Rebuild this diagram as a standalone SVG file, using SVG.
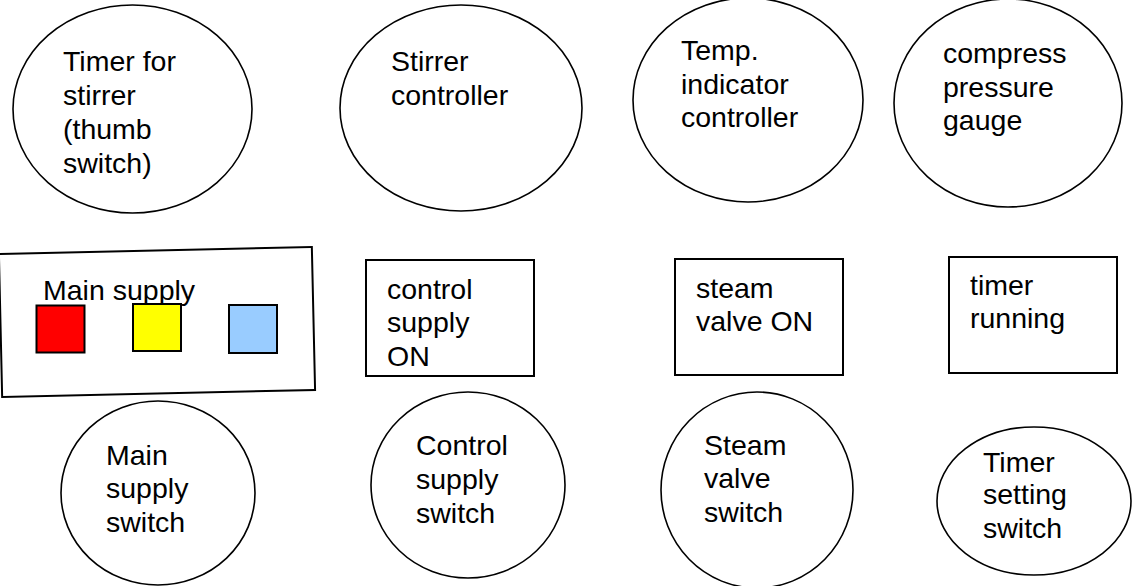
<svg xmlns="http://www.w3.org/2000/svg" width="1148" height="586" viewBox="0 0 1148 586">
<style>
  .bg { fill: #ffffff; }
  .node { fill: #ffffff; stroke: #000000; stroke-width: 1.6; }
  .box { fill: #ffffff; stroke: #000000; stroke-width: 2; }
  .sq { stroke: #000000; stroke-width: 2; }
  text { font-family: "Liberation Sans", Arial, sans-serif; font-size: 28.5px; fill: #000000; }
</style>
<rect class="bg" x="0" y="0" width="1148" height="586"/>
<g id="connectors"/>

<g id="timer-for-stirrer">
  <ellipse class="node" cx="132.5" cy="109" rx="119.5" ry="104"/>
  <text x="63" y="71">Timer for</text>
  <text x="63" y="105">stirrer</text>
  <text x="63" y="139">(thumb</text>
  <text x="63" y="173">switch)</text>
</g>

<g id="stirrer-controller">
  <ellipse class="node" cx="461" cy="108" rx="121" ry="103"/>
  <text x="391" y="71">Stirrer</text>
  <text x="391" y="105">controller</text>
</g>

<g id="temp-indicator-controller">
  <ellipse class="node" cx="748" cy="100" rx="115" ry="102"/>
  <text x="681" y="60">Temp.</text>
  <text x="681" y="94">indicator</text>
  <text x="681" y="127">controller</text>
</g>

<g id="compress-pressure-gauge">
  <ellipse class="node" cx="1008" cy="103" rx="114" ry="104"/>
  <text x="943" y="63">compress</text>
  <text x="943" y="97">pressure</text>
  <text x="943" y="130">gauge</text>
</g>

<g id="main-supply">
  <rect class="box" x="0.5" y="250.5" width="313" height="143" transform="rotate(-1.3 157 322)"/>
  <text x="43" y="300">Main supply</text>
  <rect class="sq" x="36.5" y="305.5" width="48" height="47" fill="#ff0000"/>
  <rect class="sq" x="133" y="304" width="48" height="47" fill="#ffff00"/>
  <rect class="sq" x="229" y="305" width="48" height="48" fill="#99ccff"/>
</g>

<g id="control-supply-on">
  <rect class="box" x="366" y="260" width="168" height="116"/>
  <text x="387" y="299">control</text>
  <text x="387" y="332">supply</text>
  <text x="387" y="366">ON</text>
</g>

<g id="steam-valve-on">
  <rect class="box" x="675" y="259" width="168" height="116"/>
  <text x="696" y="298">steam</text>
  <text x="696" y="331">valve ON</text>
</g>

<g id="timer-running">
  <rect class="box" x="949" y="257" width="168" height="116"/>
  <text x="970" y="295">timer</text>
  <text x="970" y="328">running</text>
</g>

<g id="main-supply-switch">
  <ellipse class="node" cx="158" cy="493" rx="97" ry="92"/>
  <text x="106" y="465">Main</text>
  <text x="106" y="498">supply</text>
  <text x="106" y="532">switch</text>
</g>

<g id="control-supply-switch">
  <ellipse class="node" cx="468" cy="485" rx="97" ry="93"/>
  <text x="416" y="455">Control</text>
  <text x="416" y="489">supply</text>
  <text x="416" y="523">switch</text>
</g>

<g id="steam-valve-switch">
  <ellipse class="node" cx="757" cy="490" rx="96" ry="98"/>
  <text x="704" y="455">Steam</text>
  <text x="704" y="488">valve</text>
  <text x="704" y="522">switch</text>
</g>

<g id="timer-setting-switch">
  <ellipse class="node" cx="1034" cy="501" rx="97" ry="74"/>
  <text x="983" y="472">Timer</text>
  <text x="983" y="504">setting</text>
  <text x="983" y="538">switch</text>
</g>
</svg>
